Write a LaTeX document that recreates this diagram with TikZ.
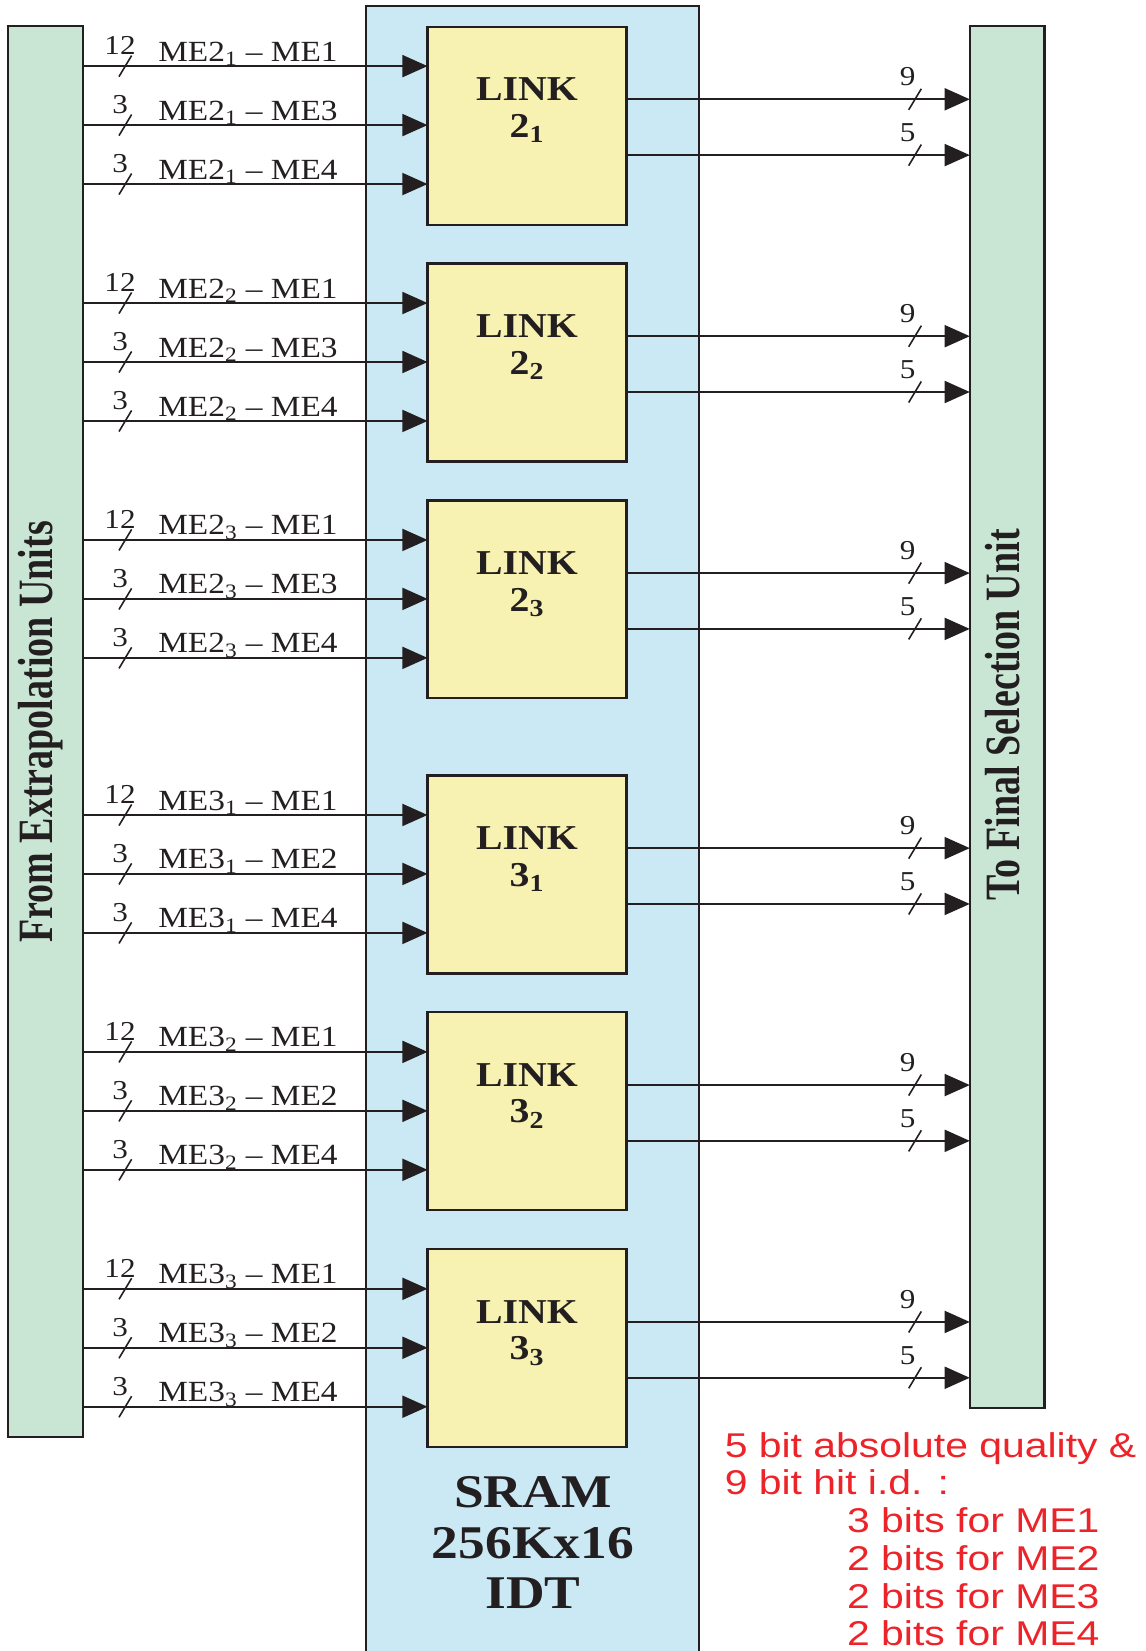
\documentclass[tikz,border=0pt]{standalone}
\usepackage{fontspec}
\setmainfont{Liberation Serif}[FakeStretch=1.14]
\newfontfamily\sidefont{Liberation Serif}[FakeStretch=0.77]
\newfontfamily\notefont{Liberation Sans}[FakeStretch=1.19]
\usetikzlibrary{arrows.meta}

\definecolor{unitgreen}{RGB}{201,230,213}
\definecolor{sramblue}{RGB}{203,233,244}
\definecolor{linkyellow}{RGB}{247,242,177}
\definecolor{notered}{RGB}{236,36,42}
\definecolor{ink}{RGB}{35,31,32}
\newcommand{\unitpx}{0.021cm}

\tikzset{
  box/.style={draw=ink, line width=1.2pt, anchor=north west, inner sep=0pt, outer sep=0pt},
  wire/.style={draw=ink, line width=0.9pt, -{Triangle[length=0.5cm, width=0.44cm]}},
  busmark/.style={draw=ink, line width=0.9pt},
  buswidth/.style={anchor=base, inner sep=0pt, text=ink, font=\fontsize{15.5}{16}\selectfont},
  melabel/.style={anchor=base west, inner sep=0pt, text=ink, font=\fontsize{16.6}{18}\selectfont},
  linklabel/.style={anchor=north, inner sep=0pt, align=center, text=ink, font=\bfseries\fontsize{19.8}{20.9}\selectfont},
  sidelabel/.style={anchor=base, rotate=90, inner sep=0pt, text=ink, font=\sidefont\bfseries\fontsize{28}{30}\selectfont}
}

\begin{document}
\begin{tikzpicture}[x=\unitpx, y=-\unitpx]
\useasboundingbox (0,0) rectangle (1088,1568);

\node[box, fill=sramblue, minimum width={316*\unitpx}, minimum height={1572*\unitpx}] (sram) at (348,6) {};
\node[box, fill=unitgreen, minimum width={71*\unitpx}, minimum height={1340*\unitpx}] (extrap) at (8,25) {};
\node[box, fill=unitgreen, minimum width={71*\unitpx}, minimum height={1312*\unitpx}] (fsel) at (921,25) {};

\node[sidelabel] (extraplbl) at (50,695) {From Extrapolation Units};
\node[sidelabel] (fsellbl) at (968,679) {To Final Selection Unit};

\foreach \n/\ytop/\grp/\idx/\a/\b in {
21/25.3/2/1/3/4, 22/250.3/2/2/3/4, 23/475.3/2/3/3/4,
31/736.5/3/1/2/4, 32/961.5/3/2/2/4, 33/1186.5/3/3/2/4} {
  \node[box, fill=linkyellow, minimum width={189*\unitpx}, minimum height={188*\unitpx}] (link\n) at (406,\ytop) {};
  \node[linklabel] (lbl\n) at ([shift={(0,48)}]link\n.north) {LINK\\\grp\textsubscript{\idx}};
  \foreach \k/\dy/\bits/\dst in {1/37.5/12/1, 2/93.5/3/\a, 3/149.5/3/\b} {
    \path (link\n.north west) ++(0,\dy) coordinate (tip);
    \path (extrap.east |- tip) coordinate (src);
    \draw[wire] (extrap.east |- tip) -- (link\n.west |- tip);
    \draw[busmark] ([shift={(34,10)}]src) -- ++(12,-20);
    \node[buswidth] (b\n-\k) at ([shift={(35,-11)}]src) {\bits};
    \node[melabel] (w\n-\k) at ([shift={(71,-4.7)}]src) {ME\grp\textsubscript{\idx} -- ME\dst};
  }
  \foreach \k/\dy/\bits in {1/69/9, 2/122/5} {
    \path (link\n.north east) ++(0,\dy) coordinate (out);
    \path (fsel.west |- out) coordinate (dst);
    \draw[wire] (link\n.east |- out) -- (fsel.west |- out);
    \draw[busmark] ([shift={(-58,10)}]dst) -- ++(12,-20);
    \node[buswidth] (o\n-\k) at ([shift={(-59,-13)}]dst) {\bits};
  }
}

\node[anchor=north, inner sep=0pt, align=center, text=ink, font=\bfseries\fontsize{26.6}{28.7}\selectfont] (sramlbl) at (506,1402) {SRAM\\256Kx16\\IDT};

\node[anchor=north west, inner sep=0pt, align=left, text=notered, font=\notefont\fontsize{19.5}{21.4}\selectfont] (bitnote) at (688,1360) {5 bit absolute quality \&\\9 bit hit i.d. :\\\hspace*{2.44cm}3 bits for ME1\\\hspace*{2.44cm}2 bits for ME2\\\hspace*{2.44cm}2 bits for ME3\\\hspace*{2.44cm}2 bits for ME4};
\end{tikzpicture}
\end{document}
